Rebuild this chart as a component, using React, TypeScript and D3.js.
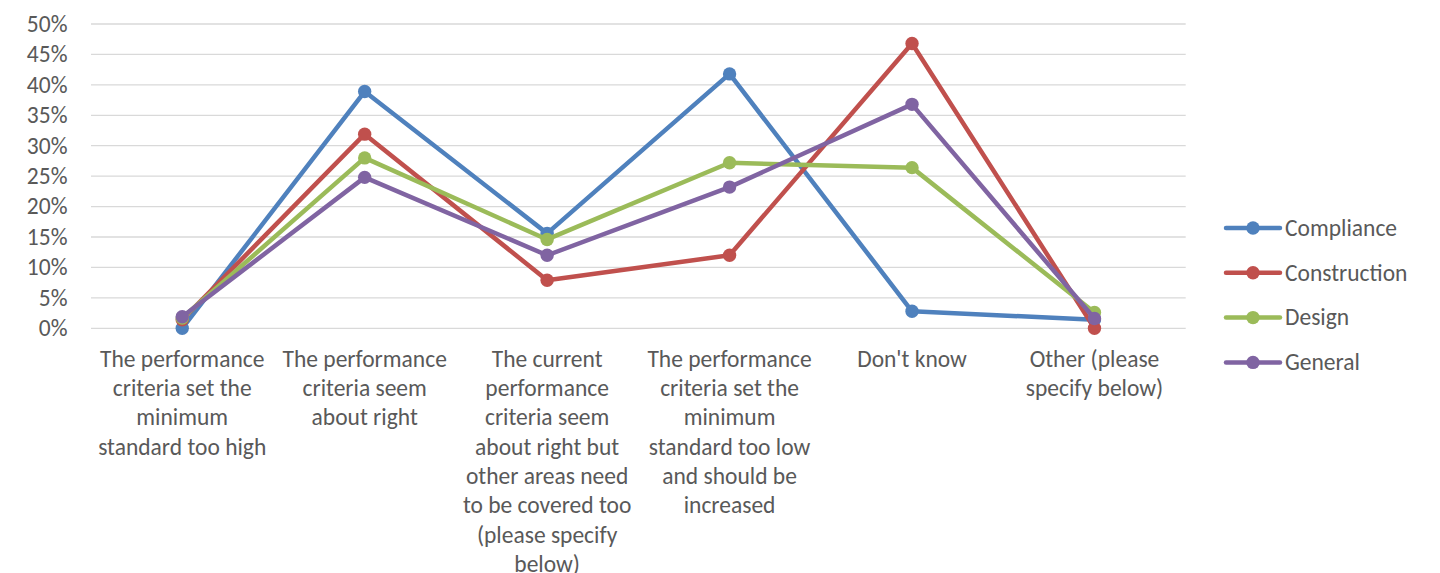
import React from "react";
import * as d3 from "d3";

const categories: string[] = [
  "The performance\ncriteria set the\nminimum\nstandard too high",
  "The performance\ncriteria seem\nabout right",
  "The current\nperformance\ncriteria seem\nabout right but\nother areas need\nto be covered too\n(please specify\nbelow)",
  "The performance\ncriteria set the\nminimum\nstandard too low\nand should be\nincreased",
  "Don't know",
  "Other (please\nspecify below)",
];

const seriesNames: string[] = ["Compliance", "Construction", "Design", "General"];
const compliance: number[] = [0, 38.9, 15.6, 41.8, 2.8, 1.4];
const construction: number[] = [1.4, 31.9, 7.9, 12.0, 46.8, 0];
const design: number[] = [1.7, 28.0, 14.6, 27.2, 26.4, 2.6];
const general: number[] = [1.9, 24.8, 12.0, 23.2, 36.8, 1.6];
const seriesValues: number[][] = [compliance, construction, design, general];
const seriesColors: string[] = ["#4f81bd", "#c0504d", "#9bbb59", "#8064a2"];
const yTicks: number[] = [0, 5, 10, 15, 20, 25, 30, 35, 40, 45, 50];

const FONT = "Carlito, Calibri, Lato, sans-serif";
const FS = 23.5;
const TEXT = "#595959";

export default function App() {
  const x = d3.scaleBand<string>().domain(categories).range([91, 1185.7]);
  const y = d3.scaleLinear().domain([0, 50]).range([328.3, 24]);
  const cx = (c: string) => (x(c) as number) + x.bandwidth() / 2;
  const line = d3
    .line<number>()
    .x((_, i) => cx(categories[i]))
    .y((v) => y(v));
  const capHalf = 7.8;

  return (
    <svg
      width={1440}
      height={573}
      style={{ position: "absolute", left: 0, top: 0, background: "#fff" }}
      fontFamily={FONT}
    >
      {yTicks.map((t) => (
        <g key={t}>
          <line x1={91} x2={1185.7} y1={y(t)} y2={y(t)} stroke="#d9d9d9" strokeWidth={1.3} />
          <text x={67.5} y={y(t) + capHalf} textAnchor="end" fontSize={FS} fill={TEXT}>
            {t}%
          </text>
        </g>
      ))}
      {categories.map((c) => (
        <text key={c} textAnchor="middle" fontSize={FS} fill={TEXT}>
          {c.split("\n").map((ln, i) => (
            <tspan key={i} x={cx(c)} y={366.7 + i * 29.3}>
              {ln}
            </tspan>
          ))}
        </text>
      ))}
      {seriesValues.map((vals, si) => (
        <g key={seriesNames[si]}>
          <path
            d={line(vals) as string}
            fill="none"
            stroke={seriesColors[si]}
            strokeWidth={4.5}
            strokeLinejoin="round"
            strokeLinecap="round"
          />
          {vals.map((v, i) => (
            <circle key={i} cx={cx(categories[i])} cy={y(v)} r={6.7} fill={seriesColors[si]} />
          ))}
        </g>
      ))}
      {seriesNames.map((n, si) => {
        const ly = 228 + si * 44.8;
        return (
          <g key={n}>
            <line x1={1226} x2={1280} y1={ly} y2={ly} stroke={seriesColors[si]} strokeWidth={4.5} strokeLinecap="round" />
            <circle cx={1253} cy={ly} r={6.7} fill={seriesColors[si]} />
            <text x={1285} y={ly + capHalf} fontSize={FS} fill={TEXT}>
              {n}
            </text>
          </g>
        );
      })}
    </svg>
  );
}
